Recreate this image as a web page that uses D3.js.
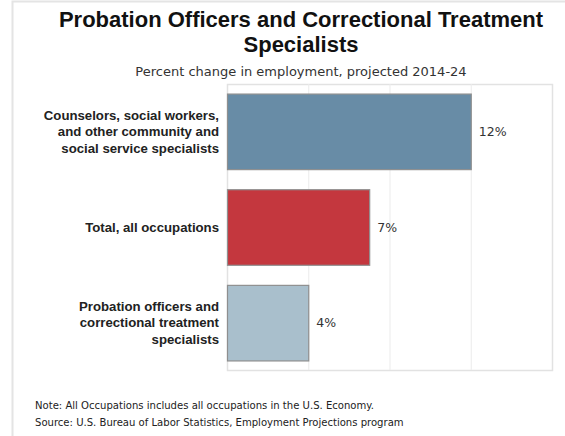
<!DOCTYPE html>
<html>
<head>
<meta charset="utf-8">
<script src="https://cdn.jsdelivr.net/npm/d3@7"></script>
<style>
  body { margin: 0; background: #fff; }
</style>
</head>
<body>
<div id="my_dataviz"></div>
<script>
// chart data
var categories = [
  ["Counselors, social workers,", "and other community and", "social service specialists"],
  ["Total, all occupations"],
  ["Probation officers and", "correctional treatment", "specialists"]
];
var values = [12, 7, 4];
var barColors = ["#688ca6", "#c4373e", "#a9bfcc"];
var gridTicks = [0, 4, 8, 12, 16];
var titleLines = ["Probation Officers and Correctional Treatment", "Specialists"];
var subtitle = "Percent change in employment, projected 2014-24";
var notes = [
  "Note: All Occupations includes all occupations in the U.S. Economy.",
  "Source: U.S. Bureau of Labor Statistics, Employment Projections program"
];

var W = 565, H = 436;
var plot = {left: 227, right: 552, top: 84, bottom: 370};

var svg = d3.select("#my_dataviz")
  .append("svg")
    .attr("width", W)
    .attr("height", H);

// outer frame (only top and left show)
svg.append("path")
  .attr("d", "M12.5," + H + "V1.5H" + W)
  .attr("fill", "none")
  .attr("stroke", "#e4e4e4")
  .attr("stroke-width", 2);

// title
svg.append("g").selectAll("text")
  .data(titleLines)
  .enter().append("text")
    .attr("x", 301)
    .attr("y", function(d, i) { return 27 + i * 25; })
    .attr("text-anchor", "middle")
    .style("font-family", "Liberation Sans, Arial, sans-serif")
    .style("font-weight", "bold")
    .style("font-size", "22px")
    .style("fill", "#111")
    .text(function(d) { return d; });

svg.append("text")
  .attr("x", 301)
  .attr("y", 76)
  .attr("text-anchor", "middle")
  .style("font-family", "DejaVu Sans, sans-serif")
  .style("font-size", "13px")
  .style("fill", "#333")
  .text(subtitle);

// scales
var x = d3.scaleLinear()
  .domain([0, 16])
  .range([plot.left, plot.right]);

var y = d3.scaleBand()
  .domain(d3.range(values.length))
  .range([plot.top, plot.bottom])
  .paddingInner(0.21)
  .paddingOuter(0.1);

// plot background + grid
svg.append("rect")
  .attr("x", plot.left + 0.5)
  .attr("y", plot.top + 0.5)
  .attr("width", plot.right - plot.left)
  .attr("height", plot.bottom - plot.top)
  .attr("fill", "#fff")
  .attr("stroke", "#e2e2e2")
  .attr("stroke-width", 1.5);

svg.append("g").selectAll("line")
  .data(gridTicks.slice(1, -1))
  .enter().append("line")
    .attr("x1", function(d) { return x(d) + 0.5; })
    .attr("x2", function(d) { return x(d) + 0.5; })
    .attr("y1", plot.top)
    .attr("y2", plot.bottom)
    .attr("stroke", "#ebebeb")
    .attr("stroke-width", 1);

// bars
svg.append("g").selectAll("rect")
  .data(values)
  .enter().append("rect")
    .attr("x", x(0) + 0.5)
    .attr("y", function(d, i) { return y(i) + 0.5; })
    .attr("width", function(d) { return x(d) - x(0); })
    .attr("height", y.bandwidth())
    .attr("fill", function(d, i) { return barColors[i]; })
    .attr("stroke", "#8f8f8f")
    .attr("stroke-width", 1.2);

// value labels
svg.append("g").selectAll("text")
  .data(values)
  .enter().append("text")
    .attr("x", function(d) { return x(d) + 8; })
    .attr("y", function(d, i) { return y(i) + y.bandwidth() / 2; })
    .attr("dy", "0.36em")
    .style("font-family", "DejaVu Sans, sans-serif")
    .style("font-size", "12.5px")
    .style("fill", "#333")
    .text(function(d) { return d + "%"; });

// category labels
var lab = svg.append("g").selectAll("text")
  .data(categories)
  .enter().append("text")
    .attr("text-anchor", "end")
    .style("font-family", "Liberation Sans, Arial, sans-serif")
    .style("font-weight", "bold")
    .style("font-size", "13.2px")
    .style("fill", "#222");

lab.each(function(lines, i) {
  var cy = y(i) + y.bandwidth() / 2;
  var n = lines.length;
  d3.select(this).selectAll("tspan")
    .data(lines)
    .enter().append("tspan")
      .attr("x", 219)
      .attr("y", function(d, j) { return cy + (j - (n - 1) / 2) * 16.5; })
      .attr("dy", "0.36em")
      .text(function(d) { return d; });
});

// notes
svg.append("g").selectAll("text")
  .data(notes)
  .enter().append("text")
    .attr("x", 35)
    .attr("y", function(d, i) { return 409 + i * 17; })
    .style("font-family", "DejaVu Sans Condensed, DejaVu Sans, sans-serif")
    .style("font-size", "11.2px")
    .style("fill", "#222")
    .text(function(d) { return d; });
</script>
</body>
</html>
